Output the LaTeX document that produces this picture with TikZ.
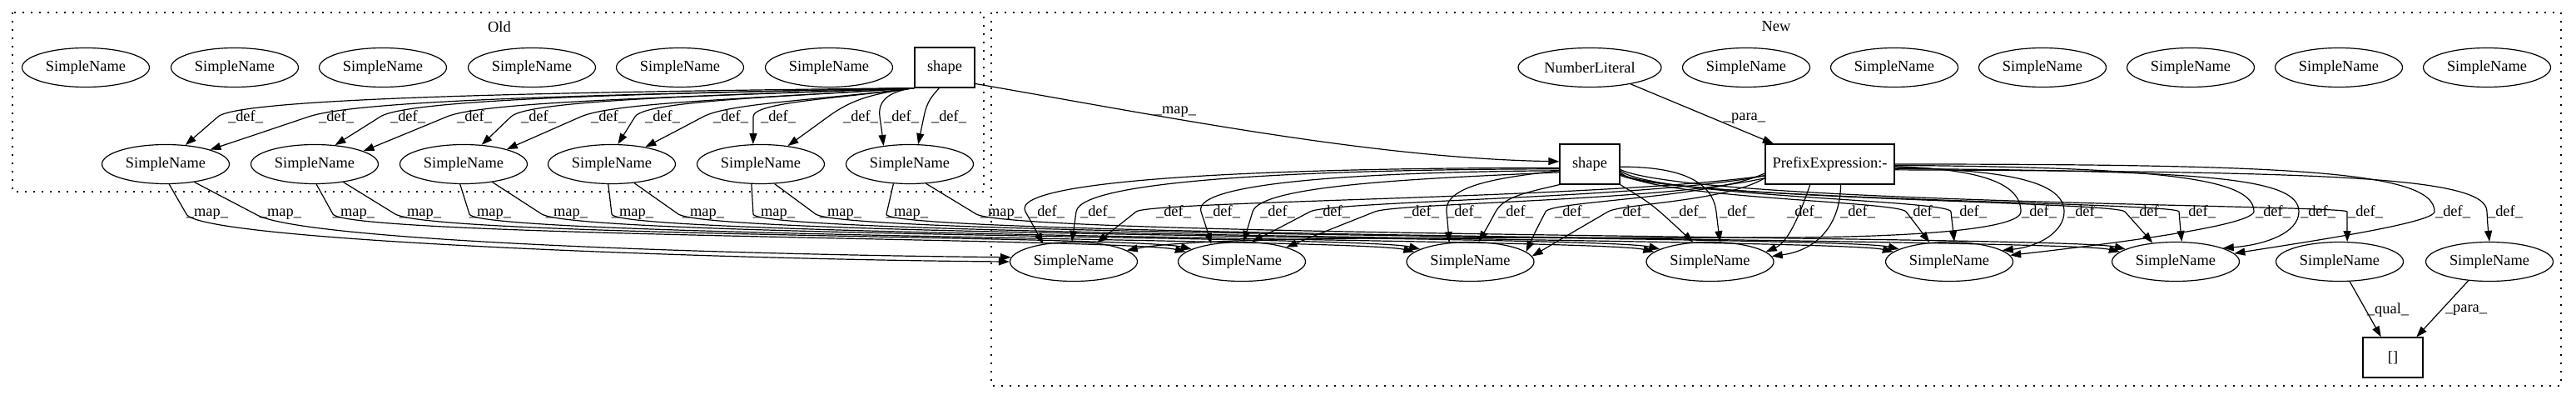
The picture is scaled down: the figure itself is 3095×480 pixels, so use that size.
\documentclass[tikz,border=0pt]{standalone}
\usepackage{fontspec}
\setmainfont{Liberation Serif}
\usetikzlibrary{shapes.geometric,arrows.meta}
\newcommand\gvf{\fontsize{9.2}{11}\selectfont}
% start, sx, hy, vx, vy, tipx, tipy, end, fraction
\newcommand\myedge[9]{\draw[edg] (#1) .. controls ({#2+#9*((#4)-(#2))},#3) and ({#4-((#6)-(#4))/((#7)-(#5))*0.8*((#5)-(#3))},{#5-0.8*((#5)-(#3))}) .. (#4,#5) .. controls ({0.5*((#4)+(#6))},{0.5*((#5)+(#7))}) .. (#8);}
% start, sx, sy, vx, end, tx, ty
\newcommand\mymap[7]{\draw[edg] (#1) -- (#4,257) .. controls ({#4+((#4)-(#2))/(257-(#3))*30},284) and ({#6-70},{#7-16}) .. (#5);}
\begin{document}
\begin{tikzpicture}[x=0.5pt,y=-0.5pt,
  sn/.style={ellipse,draw,line width=0.6pt,minimum width=76.5pt,minimum height=23.5pt,inner sep=0pt,font=\gvf},
  bx/.style={rectangle,draw,line width=0.6pt,minimum width=36pt,minimum height=24pt,inner sep=0pt,font=\gvf},
  edg/.style={line width=0.6pt,-{Triangle[length=6.5pt,width=4.5pt]}},
  lab/.style={inner sep=0pt,font=\gvf},
  cl/.style={line width=0.6pt,dash pattern=on 1pt off 4pt}]
\fill[white] (0,0) rectangle (3095,480);
\useasboundingbox (0,0) rectangle (3095,480);
% clusters
\draw[cl] (15,15) rectangle (1182,230);
\draw[cl] (1191,15) rectangle (3077,463);
\node[lab] (tOld) at (600,32) {Old};
\node[lab] (tNew) at (2134,32) {New};
% Old nodes
\node[sn] (ot1) at (103,81) {SimpleName};
\node[sn] (ot2) at (282,81) {SimpleName};
\node[sn] (ot3) at (460,81) {SimpleName};
\node[sn] (ot4) at (639,81) {SimpleName};
\node[sn] (ot5) at (817,81) {SimpleName};
\node[sn] (ot6) at (996,81) {SimpleName};
\node[bx] (os) at (1135,81) {shape};
\node[sn] (ob1) at (199,197) {SimpleName};
\node[sn] (ob2) at (378,197) {SimpleName};
\node[sn] (ob3) at (557,197) {SimpleName};
\node[sn] (ob4) at (735,197) {SimpleName};
\node[sn] (ob5) at (914,197) {SimpleName};
\node[sn] (ob6) at (1093,197) {SimpleName};
% New nodes
\node[sn,minimum width=86pt] (nl) at (1910,81) {NumberLiteral};
\node[sn] (nt1) at (2098,81) {SimpleName};
\node[sn] (nt2) at (2276,81) {SimpleName};
\node[sn] (nt3) at (2454,81) {SimpleName};
\node[sn] (nt4) at (2632,81) {SimpleName};
\node[sn] (nt5) at (2810,81) {SimpleName};
\node[sn] (nt6) at (2988,81) {SimpleName};
\node[bx] (ns) at (1910,197) {shape};
\node[bx,minimum width=77.5pt] (np) at (2198.5,197) {PrefixExpression:-};
\node[sn] (m1) at (1290,314) {SimpleName};
\node[sn] (m2) at (1492,314) {SimpleName};
\node[sn] (m3) at (1766.5,314) {SimpleName};
\node[sn] (m4) at (2054.5,314) {SimpleName};
\node[sn] (m5) at (2342,314) {SimpleName};
\node[sn] (m6) at (2614,314) {SimpleName};
\node[sn] (p1) at (2811,314) {SimpleName};
\node[sn] (p2) at (2991,314) {SimpleName};
\node[bx] (brk) at (2875,429) {[]};
% Old def edges
\myedge{os.south west}{1099}{110}{262}{140}{222}{174.6}{ob1.44}{0.45}
\myedge{os.south west}{1099}{113}{371}{140}{252}{180}{ob1.18}{0.45}
\myedge{os.south west}{1099}{112}{457}{140}{402}{174.7}{ob2.43}{0.45}
\myedge{os.south west}{1099}{116}{537}{140}{436}{181.7}{ob2.15}{0.45}
\myedge{os.south west}{1099}{114}{614}{140}{578}{174.4}{ob3.47}{0.45}
\myedge{os.south west}{1099}{118}{698}{140}{608}{179.5}{ob3.19}{0.45}
\myedge{os.south west}{1099}{116}{763}{140}{742}{173.6}{ob4.73}{0.45}
\myedge{os.south west}{1099}{120}{845}{140}{775}{177}{ob4.27}{0.45}
\myedge{os.south west}{1099}{118}{905}{140}{905}{173.7}{ob5.111}{0.45}
\myedge{os.south west}{1099}{112}{995}{140}{946}{175.7}{ob5.34}{0.45}
\myedge{os.south west}{1099}{108}{1057}{140}{1062}{175.5}{ob6.145}{0.45}
\myedge{os.255}{1129}{115}{1110}{140}{1103}{173.7}{ob6.67}{0.45}
\foreach \lx [count=\i] in {295,404,490,570,647,731,796,878,935,1034,1083,1140}
  \node[lab] (ldo\i) at (\lx,140) {\_def\_};
% Old map edges
\draw[edg] (ob1.-80) -- (224,257) .. controls (241,290) and (900,312) .. (m1.180);
\draw[edg] (ob1.-32) -- (307,257) .. controls (360,290) and (900,306) .. (m1.176);
\mymap{ob2.-85}{380}{220.5}{400}{m2.170}{1425.6}{302.3}
\mymap{ob2.-32}{411.7}{218.1}{475}{m2.166}{1432.6}{299.2}
\mymap{ob3.-100}{552.9}{220.5}{564}{m3.170}{1700.1}{302.3}
\mymap{ob3.-32}{590.7}{218.1}{651}{m3.166}{1707.1}{299.2}
\mymap{ob4.-100}{730.9}{220.5}{735}{m4.170}{1988.1}{302.3}
\mymap{ob4.-40}{761.3}{219}{815}{m4.166}{1995.1}{299.2}
\mymap{ob5.-115}{903.1}{220.3}{905}{m5.170}{2275.6}{302.3}
\mymap{ob5.-55}{930.1}{220}{980}{m5.166}{2282.6}{299.2}
\mymap{ob6.-130}{1073.9}{219.8}{1065}{m6.170}{2547.6}{302.3}
\mymap{ob6.-50}{1112.1}{219.8}{1173}{m6.166}{2554.6}{299.2}
\foreach \lx [count=\i] in {249,337,425,505,589,681,760,845,930,1010,1090,1203}
  \node[lab] (lmo\i) at (\lx,257) {\_map\_};
% Old shape -> New shape
\draw[edg] (os.-28) .. controls (1400,140) and (1650,190) .. (ns.175);
\node[lab] (lmap) at (1412,134) {\_map\_};
% NumberLiteral -> Prefix
\draw[edg] (nl.-22) -- (np.160);
\node[lab] (lpara) at (2096,142) {\_para\_};
% New def edges
\myedge{ns.187}{1874}{201}{1232}{254}{1254}{293.3}{m1.150}{0.45}
\myedge{ns.189}{1874}{203}{1293}{254}{1288}{290.5}{m1.95}{0.45}
\myedge{np.190}{2121}{238}{1365}{254}{1317}{292}{m1.39}{0.25}
\myedge{ns.192}{1874}{206}{1443}{254}{1456}{293.3}{m2.150}{0.45}
\myedge{ns.195}{1874}{214}{1505}{254}{1494}{290.5}{m2.85}{0.45}
\myedge{np.190}{2121}{238}{1574}{254}{1504}{290.8}{m2.63}{0.25}
\myedge{np.192}{2121}{241}{1652}{254}{1544}{296.8}{m2.18}{0.25}
\myedge{ns.192}{1874}{212}{1738}{254}{1741.5}{291.8}{m3.138}{0.45}
\myedge{ns.south west}{1874}{230}{1797}{254}{1777}{290.7}{m3.67}{0.45}
\myedge{np.188}{2121}{238}{1857}{254}{1832}{302.3}{m3.10}{0.25}
\myedge{np.192}{2121}{242}{1932}{254}{1840}{307.6}{m3.5}{0.25}
\draw[edg] (ns.south east) .. controls (1985,245) .. (m4.131);
\myedge{ns.-5}{1946}{200}{2062}{254}{2066.3}{290.8}{m4.63}{0.5}
\draw[edg] (np.-134) .. controls (2165,250) and (2150,290) .. (m4.10);
\draw[edg] (np.-62) .. controls (2211,268) and (2185,300) .. (m4.5);
\myedge{ns.-15}{1946}{238}{2290}{254}{2319}{291.6}{m5.136}{0.1}
\myedge{ns.-12}{1946}{236}{2344}{254}{2348}{290.6}{m5.76}{0.1}
\draw[edg] (np.-2) .. controls (2380,203) and (2428,220) .. (2428,254) .. controls (2428,272) and (2330,284) .. (2150,285) .. controls (1800,286) and (1450,282) .. (m1.12);
\draw[edg] (np.-3) .. controls (2420,204) and (2480,220) .. (2480,254) .. controls (2480,278) and (2450,296) .. (m5.12);
\myedge{ns.-18}{1946}{239}{2553}{254}{2587}{292}{m6.141}{0.1}
\myedge{ns.-20}{1946}{240}{2618}{254}{2621}{290.6}{m6.73}{0.1}
\draw[edg] (np.-1) .. controls (2600,201) and (2708,214) .. (2708,254) .. controls (2705,270) and (2560,290) .. (m5.6);
\draw[edg] (np.-4) .. controls (2650,205) and (2762,213) .. (2762,254) .. controls (2762,280) and (2720,294) .. (m6.16);
\myedge{ns.-10}{1946}{244}{2820}{254}{2820}{290.7}{p1.69}{0.1}
\draw[edg] (np.0) .. controls (2750,197) and (2925,205) .. (2925,254) .. controls (2925,268) and (2760,292) .. (m6.8);
\draw[edg] (np.-5) .. controls (2800,206) and (2988,212) .. (2988,254) .. controls (2989,272) .. (p2.north);
\foreach \lx [count=\i] in {1258,1319,1410,1469,1535,1601,1708,1759,1821,1889,1961,2029,2087,2168,2232,2310,2366,2450,2505,2582,2641,2731,2785,2842,2947,3010}
  \node[lab] (ldn\i) at (\lx,254) {\_def\_};
% [] edges
\draw[edg] (p1.-63) -- (brk.120);
\node[lab] (lqual) at (2869,372) {\_qual\_};
\draw[edg] (p2.-138) -- (brk.41);
\node[lab] (lpara2) at (2963,372) {\_para\_};
\end{tikzpicture}
\end{document}
